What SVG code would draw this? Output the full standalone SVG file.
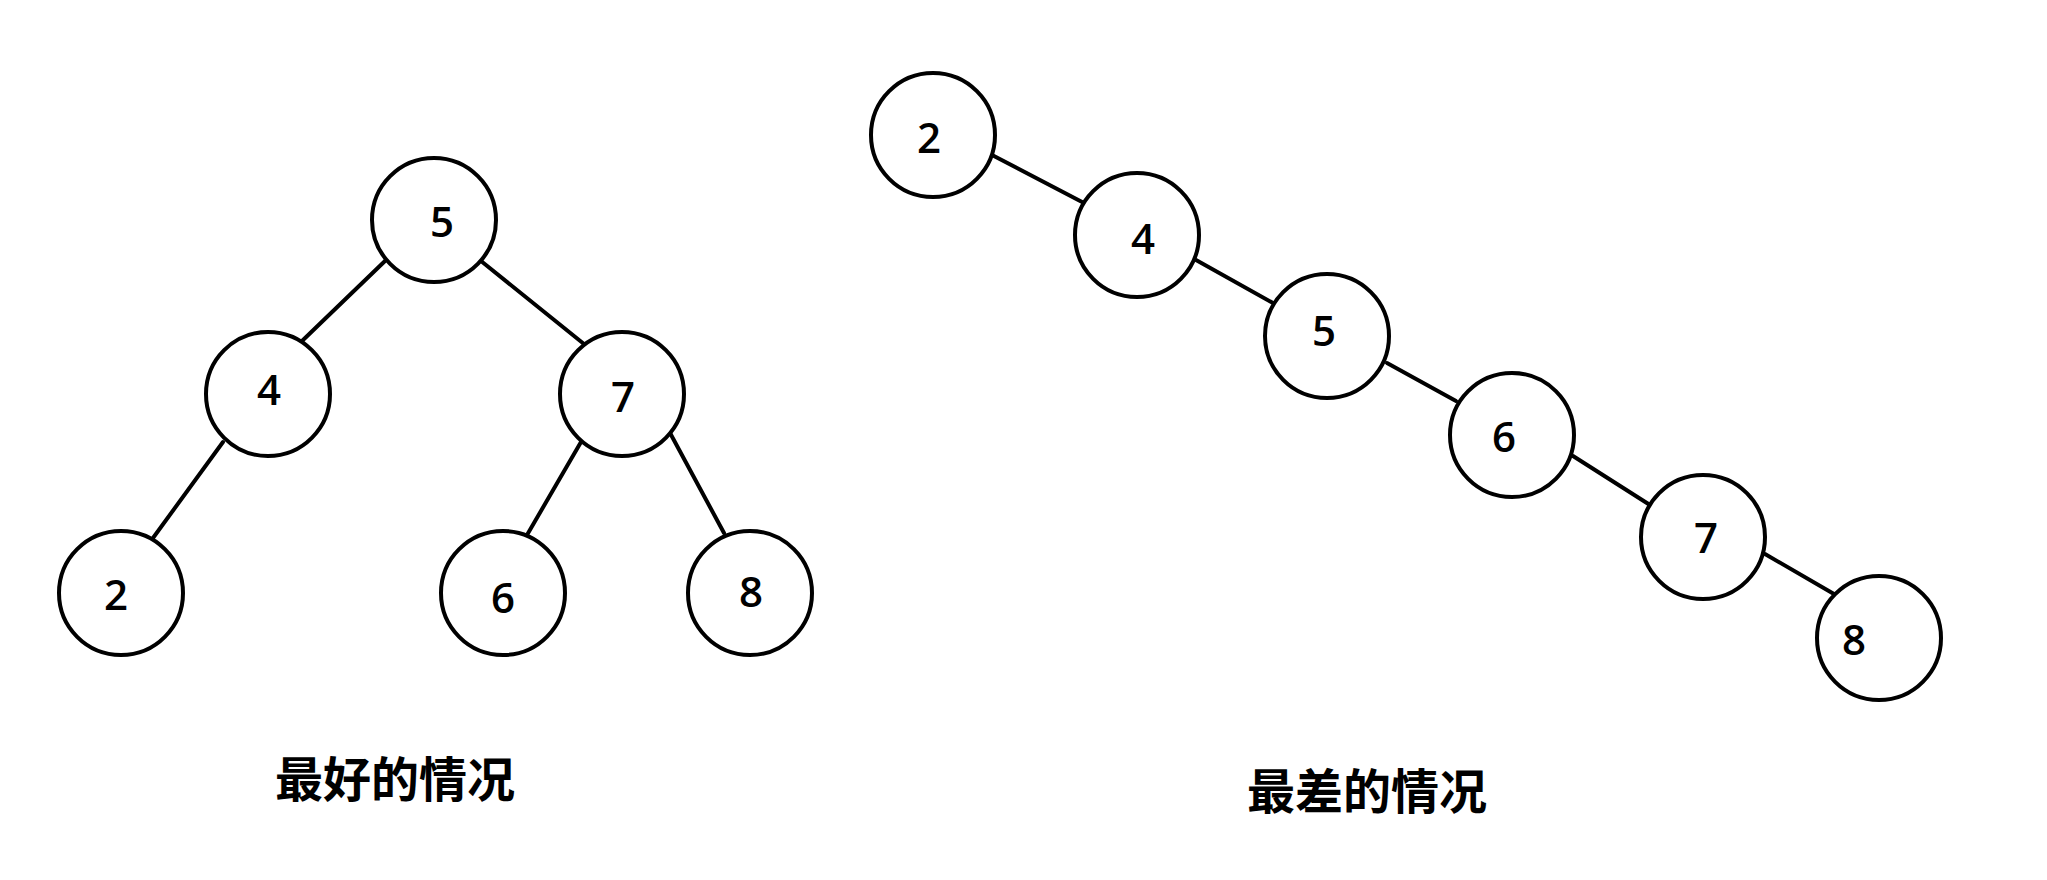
<svg xmlns="http://www.w3.org/2000/svg" width="2047" height="880" viewBox="0 0 2047 880">
<style>
.node circle{fill:#fff;stroke:#000;stroke-width:4}
.node text{font-family:"Open Sans","Noto Sans",sans-serif;font-size:42px;font-weight:600;fill:#000;text-anchor:middle;dominant-baseline:central}
.edges line{stroke:#000;stroke-width:4;stroke-linecap:round}
.cap{font-family:"Noto Sans CJK SC","Noto Sans CJK JP",sans-serif;font-weight:bold;font-size:48px;fill:#000;text-anchor:middle}
</style>
<rect width="2047" height="880" fill="#fff"/>
<g class="edges">
<line x1="385" y1="261" x2="302" y2="341"/>
<line x1="481" y1="261" x2="584" y2="344"/>
<line x1="223" y1="442" x2="153" y2="538"/>
<line x1="581" y1="442" x2="527" y2="535"/>
<line x1="669" y1="431" x2="724" y2="533"/>
<line x1="992" y1="155" x2="1084" y2="203"/>
<line x1="1196" y1="260" x2="1273" y2="303"/>
<line x1="1387" y1="363" x2="1456" y2="401"/>
<line x1="1573" y1="456" x2="1650" y2="505"/>
<line x1="1765" y1="554" x2="1834" y2="594"/>
</g>
<g id="L5" class="node"><circle cx="434" cy="220" r="62"/><text x="442" y="220">5</text></g>
<g id="L4" class="node"><circle cx="268" cy="394" r="62"/><text x="269" y="388">4</text></g>
<g id="L7" class="node"><circle cx="622" cy="394" r="62"/><text x="623" y="395">7</text></g>
<g id="L2" class="node"><circle cx="121" cy="593" r="62"/><text x="116" y="593">2</text></g>
<g id="L6" class="node"><circle cx="503" cy="593" r="62"/><text x="503" y="596">6</text></g>
<g id="L8" class="node"><circle cx="750" cy="593" r="62"/><text x="751" y="590">8</text></g>
<g id="R2" class="node"><circle cx="933" cy="135" r="62"/><text x="929" y="136">2</text></g>
<g id="R4" class="node"><circle cx="1137" cy="235" r="62"/><text x="1143" y="237">4</text></g>
<g id="R5" class="node"><circle cx="1327" cy="336" r="62"/><text x="1324" y="329">5</text></g>
<g id="R6" class="node"><circle cx="1512" cy="435" r="62"/><text x="1504" y="435">6</text></g>
<g id="R7" class="node"><circle cx="1703" cy="537" r="62"/><text x="1706" y="536">7</text></g>
<g id="R8" class="node"><circle cx="1879" cy="638" r="62"/><text x="1854" y="638">8</text></g>
<text class="cap" x="395" y="797">最好的情况</text>
<text class="cap" x="1367" y="809">最差的情况</text>
</svg>
